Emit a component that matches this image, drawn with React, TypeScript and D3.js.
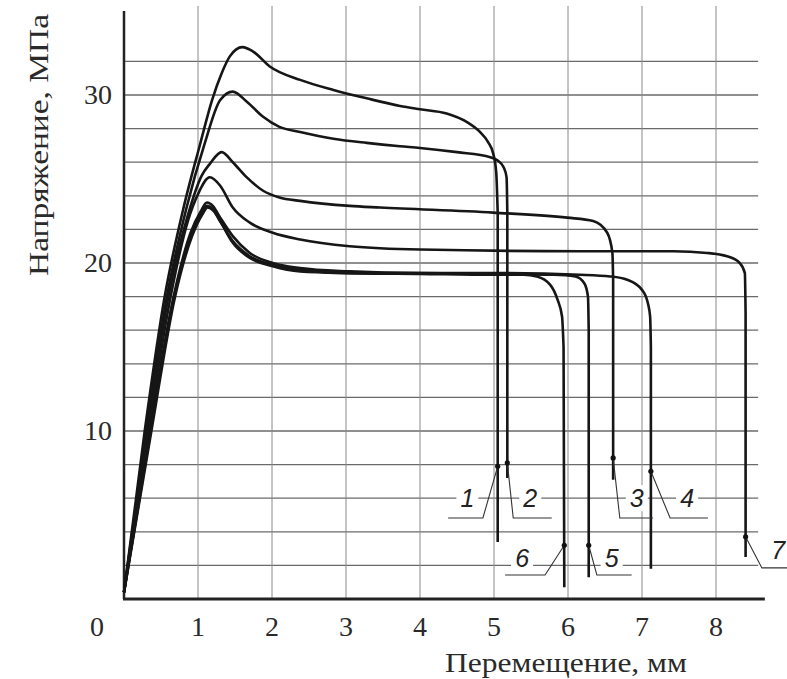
import React from 'react';
import * as d3 from 'd3';

// Stress–displacement curves for seven specimens (displacement mm, stress MPa)
type Pt = [number, number];

const curve1: Pt[] = [
  [0, 0.4], [0.28, 10], [0.55, 18], [0.8, 23.2], [1.03, 27.1],
  [1.19, 29.7], [1.32, 31.3], [1.43, 32.3], [1.6, 32.85], [1.74, 32.6], [1.97, 31.7],
  [2.38, 30.9], [2.83, 30.3], [3.28, 29.8], [3.73, 29.35], [4.0, 29.15], [4.36, 28.9],
  [4.63, 28.4], [4.81, 27.8], [4.92, 27.2], [4.99, 26.5], [5.03, 25.4], [5.05, 23], [5.05, 3.4],
];
const curve2: Pt[] = [
  [0, 0.4], [0.3, 10], [0.58, 18], [0.84, 23.2], [1.09, 27.1],
  [1.3, 29.7], [1.47, 30.2], [1.66, 29.6], [1.88, 28.7], [2.1, 28.1], [2.38, 27.8],
  [2.83, 27.4], [3.28, 27.15], [3.73, 26.95], [4.0, 26.85], [4.5, 26.6], [4.95, 26.3],
  [5.05, 26.1], [5.13, 25.7], [5.17, 25.1], [5.18, 23], [5.18, 7.2],
];
const curve3: Pt[] = [
  [0, 0.4], [0.31, 10], [0.6, 18], [0.86, 22.8], [1.05, 25.2],
  [1.16, 25.9], [1.32, 26.6], [1.47, 26.0], [1.66, 25.1], [1.88, 24.3], [2.1, 23.9],
  [2.38, 23.7], [3.05, 23.4], [3.46, 23.3], [4.99, 23.0], [5.99, 22.7], [6.34, 22.5],
  [6.53, 21.8], [6.6, 20.6], [6.61, 19], [6.61, 7.1],
];
const curve4: Pt[] = [
  [0, 0.4], [0.35, 10], [0.67, 18], [0.9, 21.8], [1.04, 23.1], [1.12, 23.6],
  [1.2, 23.4], [1.3, 22.7], [1.47, 21.6], [1.7, 20.6], [2.01, 20.0], [2.38, 19.7],
  [3.05, 19.5], [4.0, 19.4], [5.0, 19.4], [6.16, 19.3], [6.57, 19.2], [6.8, 19.0],
  [7.0, 18.4], [7.08, 17.6], [7.11, 16.8], [7.12, 15], [7.12, 1.8],
];
const curve5: Pt[] = [
  [0, 0.4], [0.36, 10], [0.68, 18], [0.91, 21.7], [1.05, 23.0], [1.12, 23.4],
  [1.2, 23.2], [1.3, 22.5], [1.47, 21.3], [1.7, 20.4], [2.01, 19.9], [2.38, 19.6],
  [3.05, 19.4], [4.0, 19.4], [5.0, 19.35], [5.8, 19.3], [6.1, 19.2], [6.22, 18.8],
  [6.27, 18.0], [6.28, 16], [6.28, 1.3],
];
const curve6: Pt[] = [
  [0, 0.4], [0.37, 10], [0.69, 18], [0.92, 21.6], [1.06, 22.9], [1.13, 23.3],
  [1.21, 23.1], [1.31, 22.4], [1.47, 21.2], [1.7, 20.3], [2.01, 19.8], [2.38, 19.5],
  [3.05, 19.4], [4.0, 19.35], [5.0, 19.3], [5.4, 19.3], [5.58, 19.2], [5.76, 18.7],
  [5.86, 17.8], [5.92, 16.8], [5.94, 15], [5.95, 0.7],
];
const curve7: Pt[] = [
  [0, 0.4], [0.33, 10], [0.63, 18], [0.87, 22.6], [1.0, 24.1], [1.16, 25.1],
  [1.3, 24.6], [1.47, 23.3], [1.7, 22.4], [2.01, 21.8], [2.38, 21.4], [3.05, 21.0],
  [4.0, 20.8], [6.16, 20.7], [7.42, 20.7], [7.88, 20.6], [8.15, 20.4],
  [8.32, 20.0], [8.39, 19.4], [8.4, 17], [8.4, 2.5],
];
const curves = [curve1, curve2, curve3, curve4, curve5, curve6, curve7];

// callouts: label, marker point, elbow, end of shelf, text position
const calloutLabels = ['1', '2', '3', '4', '5', '6', '7'];
const calloutMarkers: Pt[] = [[5.05, 7.9], [5.18, 8.1], [6.61, 8.4], [7.12, 7.6], [6.28, 3.2], [5.95, 3.2], [8.4, 3.7]];
const calloutElbows: Pt[] = [[4.85, 4.82], [5.26, 4.82], [6.7, 4.82], [7.38, 4.82], [6.39, 1.43], [5.69, 1.43], [8.62, 1.85]];
const calloutEnds: Pt[] = [[4.38, 4.82], [5.78, 4.82], [7.15, 4.82], [7.89, 4.82], [6.86, 1.43], [5.15, 1.43], [9.1, 1.85]];
const calloutText: Pt[] = [[4.64, 6.0], [5.49, 6.0], [6.93, 6.0], [7.61, 6.0], [6.59, 2.44], [5.38, 2.44], [8.84, 2.9]];

const xTicks = [1, 2, 3, 4, 5, 6, 7, 8];
const yTicks = [10, 20, 30];
const hGrid = d3.range(2, 33, 2);
const xTitle = 'Перемещение, мм';
const yTitle = 'Напряжение, МПа';

export default function App() {
  const width = 787;
  const height = 679;
  const x = d3.scaleLinear().domain([0, 8]).range([124, 716]);
  const y = d3.scaleLinear().domain([0, 10]).range([599, 431]);

  const line = d3.line<Pt>()
    .x(d => x(d[0]))
    .y(d => y(d[1]))
    .curve(d3.curveMonotoneX);

  // smooth part with monotone curve, then the straight drop to the break point
  const curvePath = (c: Pt[]) => {
    const last = c[c.length - 1];
    return (line(c.slice(0, -1)) || '') + `L${x(last[0])},${y(last[1])}`;
  };

  const serif = '"Liberation Serif", "Times New Roman", serif';

  return (
    <svg width={width} height={height} style={{ position: 'absolute', left: 0, top: 0, background: '#fff' }}>
      <rect width={width} height={height} fill="#fff" />

      {/* grid */}
      {hGrid.map(v => (
        <line key={'h' + v} x1={x(0)} x2={x(8.57)} y1={y(v)} y2={y(v)} stroke="#6a6a6a" strokeWidth={1.3} />
      ))}
      {xTicks.map(v => (
        <line key={'v' + v} x1={x(v)} x2={x(v)} y1={y(35.3)} y2={y(0)} stroke="#8a8a8a" strokeWidth={1} />
      ))}

      {/* callout label backgrounds and text */}
      {calloutLabels.map((l, i) => (
        <g key={'t' + l}>
          <rect x={x(calloutText[i][0]) - 11} y={y(calloutText[i][1]) - 13} width={22} height={26} fill="#fff" />
          <text x={x(calloutText[i][0])} y={y(calloutText[i][1]) + 9} textAnchor="middle"
            fontFamily='"Liberation Sans", Arial, sans-serif' fontStyle="italic" fontSize={25} fill="#222">{l}</text>
        </g>
      ))}

      {/* axes */}
      <line x1={x(0)} x2={x(0)} y1={y(35)} y2={y(0)} stroke="#222" strokeWidth={2.5} />
      <line x1={x(0) - 1} x2={x(8.66)} y1={y(0)} y2={y(0)} stroke="#222" strokeWidth={3} />

      {/* curves */}
      {curves.map((c, i) => (
        <path key={'c' + i} d={curvePath(c)} fill="none" stroke="#161616" strokeWidth={2.6} strokeLinejoin="round" />
      ))}

      {/* callout leaders */}
      {calloutLabels.map((l, i) => (
        <g key={'l' + l}>
          <polyline
            points={[calloutMarkers[i], calloutElbows[i], calloutEnds[i]].map(p => `${x(p[0])},${y(p[1])}`).join(' ')}
            fill="none" stroke="#333" strokeWidth={1.1} />
          <circle cx={x(calloutMarkers[i][0])} cy={y(calloutMarkers[i][1])} r={2.6} fill="#111" />
        </g>
      ))}

      {/* tick labels */}
      {xTicks.map(v => (
        <text key={'xt' + v} x={x(v)} y={636} textAnchor="middle" fontFamily={serif} fontSize={28} fill="#2a2a2a">{v}</text>
      ))}
      <text x={97} y={636} textAnchor="middle" fontFamily={serif} fontSize={28} fill="#2a2a2a">0</text>
      {yTicks.map(v => (
        <text key={'yt' + v} x={112} y={y(v) + 9} textAnchor="end" fontFamily={serif} fontSize={28} fill="#2a2a2a">{v}</text>
      ))}

      {/* axis titles */}
      <text x={566} y={672} textAnchor="middle" fontFamily={serif} fontSize={28} fill="#2a2a2a"
        textLength={242} lengthAdjust="spacingAndGlyphs">{xTitle}</text>
      <text transform={`translate(48,145) rotate(-90)`} textAnchor="middle" fontFamily={serif} fontSize={28} fill="#2a2a2a"
        textLength={262} lengthAdjust="spacingAndGlyphs">{yTitle}</text>
    </svg>
  );
}
